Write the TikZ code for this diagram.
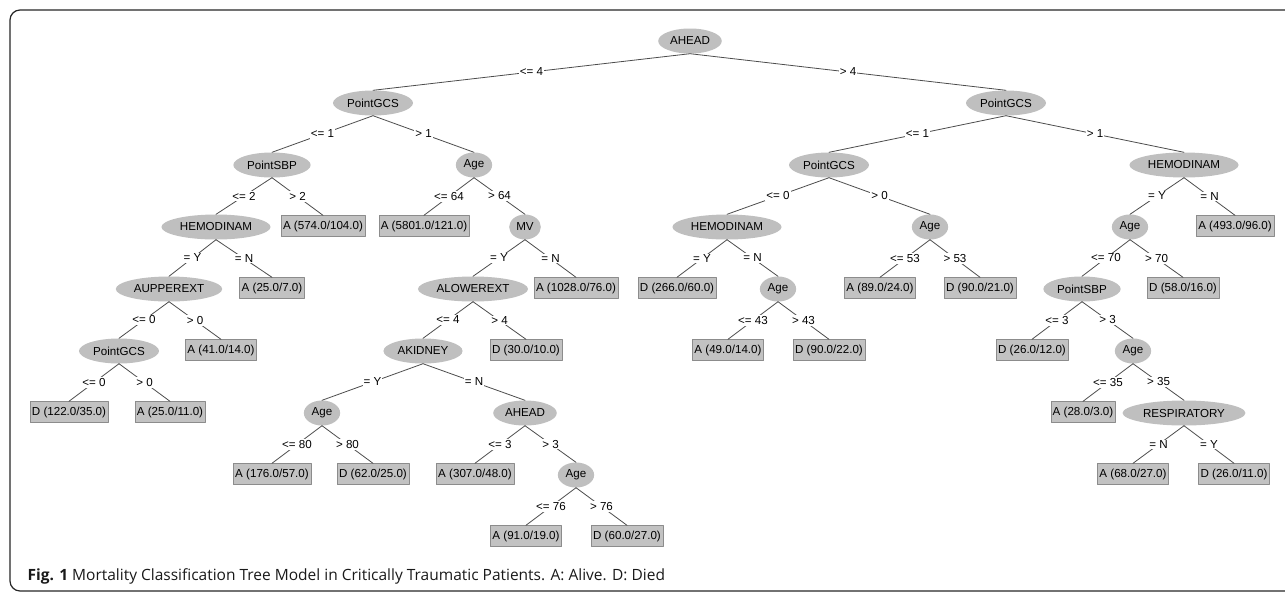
\documentclass[tikz,border=0pt]{standalone}
\usepackage{fontspec}
\setmainfont{Liberation Sans}
\newfontfamily\capfont{Open Sans}
\usetikzlibrary{shapes.geometric}
\begin{document}
\begin{tikzpicture}[x=1pt, y=-1pt, font=\fontsize{11.6}{14}\selectfont, line join=round, line cap=round,
 split/.style={ellipse, fill=gray!50, inner xsep=2.5pt, inner ysep=1pt, minimum height=25pt},
 leaf/.style={rectangle, fill=gray!48, draw=gray!90, inner xsep=2pt, inner ysep=0pt, minimum height=21pt},
 edge/.style={draw=black!70, line width=.8pt},
 br/.style={midway, fill=white, inner sep=1pt}]
 \useasboundingbox (0,0) rectangle (1285,592);
 \draw[black!85, line width=1.2pt, rounded corners=10pt] (1300,10)--(10,10)--(10,591)--(1300,591);
 % level 0-2
 \node[split] (ahead) at (690,41) {AHEAD};
 \node[split] (gcsL) at (373,103) {PointGCS};
 \node[split] (gcsR) at (1006,103) {PointGCS};
 \node[split] (sbpL) at (272,165) {PointSBP};
 \node[split] (ageL) at (474,165) {Age};
 \node[split] (gcsRL) at (829,165) {PointGCS};
 \node[split] (hemRR) at (1184,165) {HEMODINAM};
 % level 3
 \node[split] (hemL) at (216,227) {HEMODINAM};
 \node[leaf] (a574) at (323,226) {A (574.0/104.0)};
 \node[leaf] (a5801) at (424,226) {A (5801.0/121.0)};
 \node[split] (mv) at (525,227) {MV};
 \node[split] (hemRL) at (727,227) {HEMODINAM};
 \node[split] (ageRL) at (930,227) {Age};
 \node[split] (ageRR) at (1130,227) {Age};
 \node[leaf] (a493) at (1235,226) {A (493.0/96.0)};
 % level 4
 \node[split] (aupper) at (169,289) {AUPPEREXT};
 \node[leaf] (a25) at (272,288) {A (25.0/7.0)};
 \node[split] (alower) at (473,289) {ALOWEREXT};
 \node[leaf] (a1028) at (576,288) {A (1028.0/76.0)};
 \node[leaf] (d266) at (677,288) {D (266.0/60.0)};
 \node[split] (ageN) at (778,289) {Age};
 \node[leaf] (a89) at (880,288) {A (89.0/24.0)};
 \node[leaf] (d90) at (980,288) {D (90.0/21.0)};
 \node[split] (sbpR) at (1082,289) {PointSBP};
 \node[leaf] (d58) at (1183,288) {D (58.0/16.0)};
 % level 5
 \node[split] (gcsLL) at (119,351) {PointGCS};
 \node[leaf] (a41) at (221,350) {A (41.0/14.0)};
 \node[split] (akid) at (423,351) {AKIDNEY};
 \node[leaf] (d30) at (526,350) {D (30.0/10.0)};
 \node[leaf] (a49) at (728,350) {A (49.0/14.0)};
 \node[leaf] (d90b) at (829,350) {D (90.0/22.0)};
 \node[leaf] (d26) at (1032,350) {D (26.0/12.0)};
 \node[split] (age35) at (1133,351) {Age};
 % level 6
 \node[leaf] (d122) at (69,412) {D (122.0/35.0)};
 \node[leaf] (a25b) at (170,412) {A (25.0/11.0)};
 \node[split] (age80) at (322,413) {Age};
 \node[split] (aheadN) at (525,413) {AHEAD};
 \node[leaf] (a28) at (1083,412) {A (28.0/3.0)};
 \node[split] (resp) at (1184,413) {RESPIRATORY};
 % level 7-8
 \node[leaf] (a176) at (272,474) {A (176.0/57.0)};
 \node[leaf] (d62) at (373,474) {D (62.0/25.0)};
 \node[leaf] (a307) at (475,474) {A (307.0/48.0)};
 \node[split] (age76) at (576,475) {Age};
 \node[leaf] (a68) at (1133,474) {A (68.0/27.0)};
 \node[leaf] (d26b) at (1234,474) {D (26.0/11.0)};
 \node[leaf] (a91) at (526,536) {A (91.0/19.0)};
 \node[leaf] (d60) at (627,536) {D (60.0/27.0)};
 % branches
 \foreach \p/\c/\t in {ahead/gcsL/{<= 4}, ahead/gcsR/{> 4}, gcsL/sbpL/{<= 1}, gcsL/ageL/{> 1},
   sbpL/hemL/{<= 2}, sbpL/a574/{> 2}, hemL/aupper/{= Y}, hemL/a25/{= N},
   aupper/gcsLL/{<= 0}, aupper/a41/{> 0}, gcsLL/d122/{<= 0}, gcsLL/a25b/{> 0},
   ageL/a5801/{<= 64}, ageL/mv/{> 64}, mv/alower/{= Y}, mv/a1028/{= N},
   alower/akid/{<= 4}, alower/d30/{> 4}, akid/age80/{= Y}, akid/aheadN/{= N},
   age80/a176/{<= 80}, age80/d62/{> 80}, aheadN/a307/{<= 3}, aheadN/age76/{> 3},
   age76/a91/{<= 76}, age76/d60/{> 76}, gcsR/gcsRL/{<= 1}, gcsR/hemRR/{> 1},
   gcsRL/hemRL/{<= 0}, gcsRL/ageRL/{> 0}, hemRL/d266/{= Y}, hemRL/ageN/{= N},
   ageN/a49/{<= 43}, ageN/d90b/{> 43}, ageRL/a89/{<= 53}, ageRL/d90/{> 53},
   hemRR/ageRR/{= Y}, hemRR/a493/{= N}, ageRR/sbpR/{<= 70}, ageRR/d58/{> 70},
   sbpR/d26/{<= 3}, sbpR/age35/{> 3}, age35/a28/{<= 35}, age35/resp/{> 35},
   resp/a68/{= N}, resp/d26b/{= Y}}
  \draw[edge] (\p.south) -- node[br]{\t} (\c.north);
 \node[anchor=base west, font=\capfont\fontsize{15.5}{18}\selectfont, text=black!90] (cap) at (24,580)
  {\textbf{Fig. 1} Mortality Classification Tree Model in Critically Traumatic Patients. A: Alive. D: Died};
\end{tikzpicture}
\end{document}
